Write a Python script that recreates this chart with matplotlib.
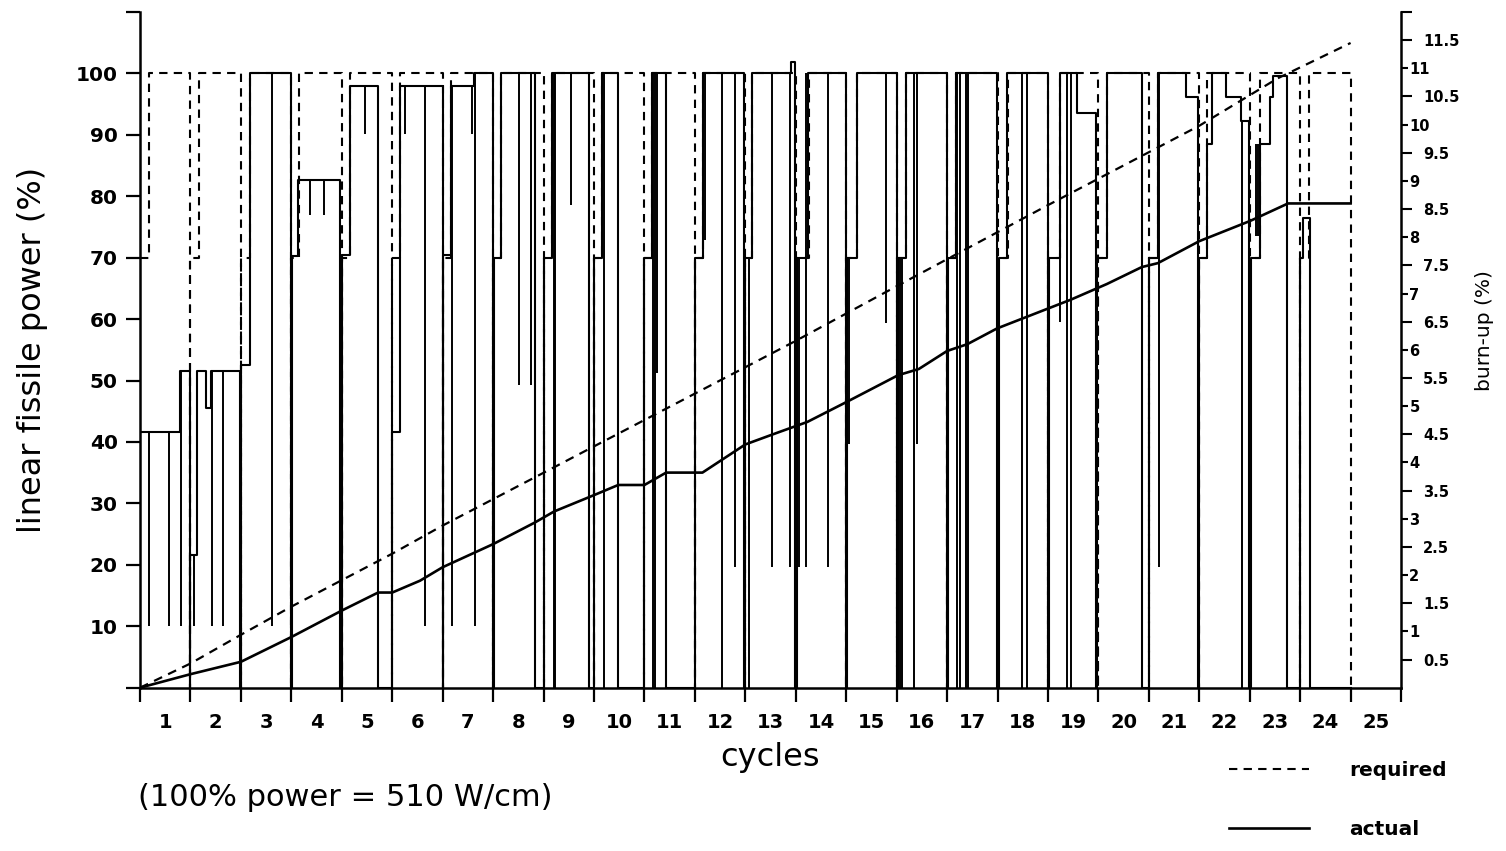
import matplotlib
matplotlib.use('Agg')
import matplotlib.pyplot as plt
from matplotlib.lines import Line2D

# ---- values (x in cycles) ----

# required power: 70 % at cycle start, 100 % from req_full, 0 at req_end
req_start = [0, 1, 2, 3, 4, 5, 6, 7, 8, 9, 10, 11,
             12, 13, 14, 15, 16, 17, 18, 19, 20, 21, 22, 23]
req_full = [0.17, 1.17, 2.17, 3.15, 4.16, 5.16, 6.17, 7.16, 8.17, 9.16, 10.14, 11.16,
            12.13, 13.26, 14.22, 15.18, 16.17, 17.20, 18.23, 19.18, 20.18, 21.16, 22.20, 23.18]
req_end = [1, 2, 3, 4, 5, 6, 7, 8, 9, 10, 11, 12,
           13, 14, 15, 16, 17, 18, 19, 20, 21, 22, 23, 24]
req_low = 70
req_high = 100

# actual power history (step changes)
act_c = [0.00, 0.80, 0.99,
         1.00, 1.13, 1.30, 1.40, 1.99,
         2.00, 2.17, 3.00,
         3.01, 3.14, 3.97,
         4.00, 4.16, 4.72,
         5.00, 5.16, 6.00,
         6.01, 6.17, 6.62, 7.00,
         7.01, 7.16, 7.83,
         8.01, 8.17, 8.90,
         9.00, 9.16, 9.48,
         10.00, 10.14, 10.43,
         11.00, 11.16, 11.98,
         12.00, 12.13, 12.90, 12.98,
         13.02, 13.24, 14.00,
         14.02, 14.21, 15.00,
         15.02, 15.18, 15.99,
         16.02, 16.17, 16.98,
         17.02, 17.19, 18.00,
         18.02, 18.24, 18.57, 18.96,
         18.98, 19.18, 19.86,
         20.00, 20.18, 20.73, 20.97,
         21.00, 21.16, 21.26, 21.52, 21.82, 21.99,
         22.02, 22.20, 22.40, 22.47, 22.73,
         23.00, 23.05, 23.20, 24.00]
act_p = [41.6, 51.5, 0,
         21.6, 51.5, 45.6, 51.5, 0,
         52.6, 100, 0,
         70.2, 82.6, 0,
         70.5, 97.9, 0,
         41.6, 97.9, 0,
         70.5, 97.9, 100, 0,
         70, 100, 0,
         70, 100, 0,
         70, 100, 0,
         70, 100, 0,
         70, 100, 0,
         70, 100, 101.9, 0,
         70, 100, 0,
         70, 100, 0,
         70, 100, 0,
         70, 100, 0,
         70, 100, 0,
         70, 100, 93.6, 0,
         70, 100, 0,
         70, 100, 96.2, 0,
         70, 88.5, 100, 96.2, 92.2, 0,
         70, 88.5, 96.2, 99.5, 0,
         70, 76.5, 0, 0]

# short power drops (scrams / reductions)
spk_c = [0.17, 0.58, 0.82, 1.06, 1.42, 1.65, 2.61, 3.36, 3.65, 4.45,
         5.25, 5.65, 6.19, 6.58, 6.64, 7.52, 7.75, 8.20, 8.23, 8.54,
         9.19, 10.17, 10.21, 10.24, 11.20, 11.54, 11.80, 12.07, 12.52, 12.88,
         13.06, 13.20, 13.63, 14.06, 14.78, 15.06, 15.10, 15.34, 15.41, 16.20,
         16.25, 16.38, 16.42, 17.49, 17.59, 18.24, 18.38, 18.45, 20.20, 21.85,
         22.13, 22.17]
spk_top = [41.6, 41.6, 51.5, 21.6, 51.5, 51.5, 100, 82.6, 82.6, 97.9,
           97.9, 97.9, 97.9, 97.9, 100, 100, 100, 100, 100, 100,
           100, 100, 100, 100, 100, 100, 100, 70, 100, 100,
           70, 100, 100, 70, 100, 70, 70, 100, 100, 100,
           100, 100, 100, 100, 100, 70, 100, 100, 100, 92.2,
           88.5, 88.5]
spk_bot = [10, 10, 10, 10, 10, 10, 10, 76.9, 76.9, 90.2,
           90.2, 10, 10, 90.2, 10, 49.3, 49.3, 0, 0, 78.6,
           0, 0, 0, 51.3, 72.9, 0, 19.6, 0, 19.6, 19.6,
           19.6, 19.6, 19.6, 39.6, 59.3, 0, 0, 0, 39.6, 0,
           0, 0, 0, 0, 0, 59.6, 0, 0, 19.6, 0,
           73.5, 73.5]

# burn-up (%)
req_bu_c = [0, 1, 2, 3, 4, 5, 6, 13, 15, 18, 20, 21, 22.55, 24]
req_bu = [0, 0.43, 0.94, 1.44, 1.91, 2.38, 2.88, 6.16, 7.13, 8.57, 9.51, 9.98, 10.82, 11.45]
act_bu_c = [0, 1, 2, 3, 4, 4.72, 5.0, 5.55, 6, 7,
            7.82, 8.21, 9, 9.48, 10.0, 10.43, 11.15, 12, 12.64, 13.23,
            14.02, 15.03, 15.44, 16.0, 16.4, 16.99, 18.02, 18.45, 19.17, 19.86,
            20.18, 21, 22.01, 22.76, 24]
act_bu = [0, 0.24, 0.46, 0.9, 1.37, 1.69, 1.69, 1.9, 2.14, 2.55,
          2.93, 3.13, 3.42, 3.6, 3.6, 3.82, 3.82, 4.32, 4.53, 4.72,
          5.08, 5.55, 5.66, 5.98, 6.1, 6.38, 6.74, 6.89, 7.17, 7.47,
          7.54, 7.93, 8.29, 8.6, 8.6]

cycle_labels = list(range(1, 26))
power_ticks = list(range(0, 111, 10))
bu_half = [0.5, 1.5, 2.5, 3.5, 4.5, 5.5, 6.5, 7.5, 8.5, 9.5, 10.5, 11.5]
bu_whole = [1, 2, 3, 4, 5, 6, 7, 8, 9, 10, 11]

# build the required step path
req_c, req_p = [], []
for s, f, e in zip(req_start, req_full, req_end):
    req_c += [s, f, e]
    req_p += [req_low, req_high, 0]

plt.rcParams['font.family'] = ['DejaVu Sans']
dash = (0, (4, 3))

fig = plt.figure(figsize=(15.06, 8.51), dpi=100)
ax = fig.add_axes([0.093, 0.1919, 0.8373, 0.794])

ax.plot(req_c, req_p, drawstyle='steps-post', color='k', lw=1.5, ls=dash)
ax.plot(act_c, act_p, drawstyle='steps-post', color='k', lw=1.5)
ax.vlines(spk_c, spk_bot, spk_top, color='k', lw=1.4)

ax.set_xlim(0, 25)
ax.set_ylim(0, 110)
for s in ['top', 'right']:
    ax.spines[s].set_visible(False)
for s in ['left', 'bottom']:
    ax.spines[s].set_linewidth(1.8)

ax.set_xticks(range(26))
ax.set_xticklabels([])
ax.set_xticks([k - 0.5 for k in cycle_labels], minor=True)
ax.set_xticklabels([str(k) for k in cycle_labels], minor=True, fontweight='bold')
ax.tick_params(axis='x', which='major', length=10, width=1.6, direction='out')
ax.tick_params(axis='x', which='minor', length=0, labelsize=14, pad=18)

ax.set_yticks(power_ticks)
ax.set_yticklabels(['' if v in (0, 110) else str(v) for v in power_ticks], fontweight='bold')
ax.tick_params(axis='y', length=10, width=1.6, labelsize=14.5, pad=6)

ax.set_xlabel('cycles', fontsize=23)
ax.xaxis.set_label_coords(0.5, -0.080)
ax.set_ylabel('linear fissile power (%)', fontsize=23)
ax.yaxis.set_label_coords(-0.073, 0.5)

# burn-up on the right axis
ax2 = ax.twinx()
ax2.plot(req_bu_c, req_bu, color='k', lw=1.6, ls=dash)
ax2.plot(act_bu_c, act_bu, color='k', lw=1.9)
ax2.set_ylim(0, 12)
for s in ['top', 'left', 'bottom']:
    ax2.spines[s].set_visible(False)
ax2.spines['right'].set_linewidth(1.8)
ax2.set_yticks(bu_half + [12])
ax2.set_yticklabels([str(v) for v in bu_half] + [''], fontweight='bold')
ax2.set_yticks(bu_whole, minor=True)
ax2.set_yticklabels([str(v) for v in bu_whole], minor=True, fontweight='bold')
ax2.tick_params(axis='y', which='major', length=8, width=1.5, pad=8, labelsize=10.5)
ax2.tick_params(axis='y', which='minor', length=5, width=1.5, pad=1, labelsize=10.5)
ax2.set_ylabel('burn-up (%)', fontsize=14.5)
ax2.yaxis.set_label_coords(1.0587, 0.528)

fig.text(138 / 1506, 1 - 798 / 851, '(100% power = 510 W/cm)', fontsize=22,
         ha='left', va='center')

handles = [Line2D([], [], color='k', lw=1.5, ls=dash),
           Line2D([], [], color='k', lw=1.9)]
fig.legend(handles, ['required', 'actual'], loc='upper left',
           bbox_to_anchor=(0.816, 0.1058), frameon=False, borderpad=0,
           borderaxespad=0, handlelength=3.97, handletextpad=2.0,
           labelspacing=2.01, prop={'size': 14.5, 'weight': 'bold'})

fig.savefig('out.png', dpi=100)
